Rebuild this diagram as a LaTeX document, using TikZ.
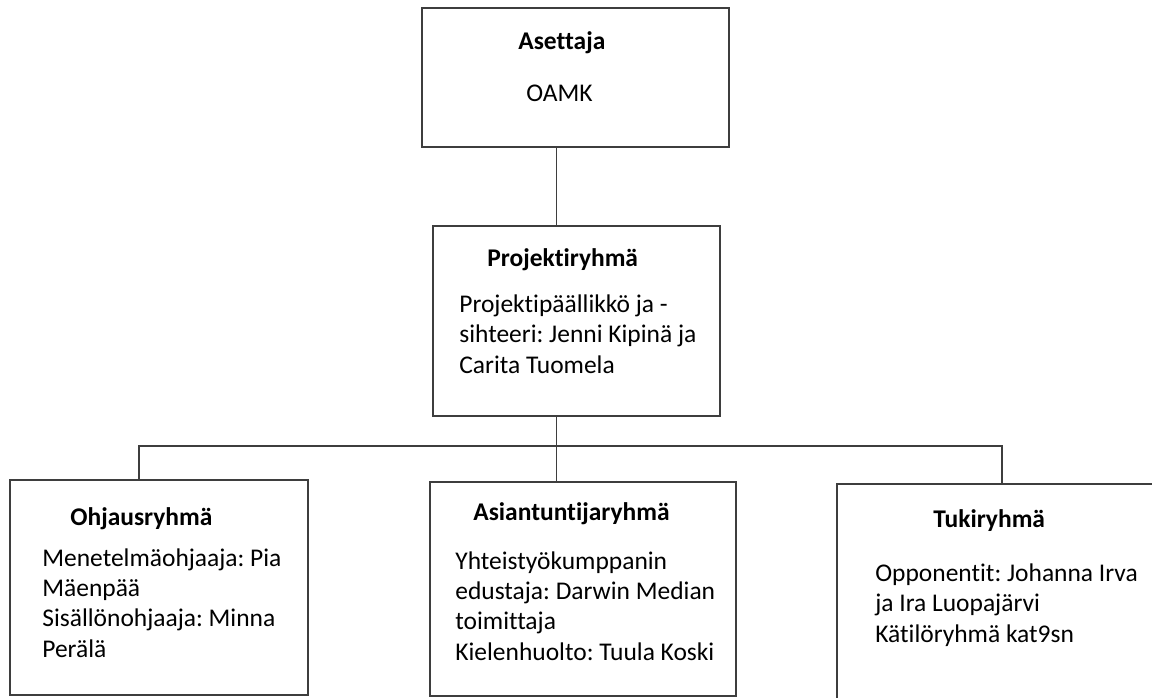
\documentclass[tikz,border=0pt]{standalone}
\usepackage{fontspec}
\setmainfont{Carlito}[Ligatures=NoCommon]
\frenchspacing
\usepackage{tikz}
\usetikzlibrary{fit,calc}
\definecolor{linegray}{RGB}{62,62,62}
\tikzset{
  orgbox/.style={draw=linegray,line width=0.75pt,inner sep=0pt},
  boxtitle/.style={anchor=base west,inner sep=0pt,
    font=\fontsize{14.5}{17}\selectfont\bfseries},
  % multi-line texts: base is the baseline of the last line
  boxtext/.style={anchor=base west,inner sep=0pt,align=left,
    font=\fontsize{14.5}{17.2}\selectfont},
  link/.style={draw=linegray,line width=0.75pt},
}
\begin{document}
\begin{tikzpicture}[x=0.02cm,y=-0.02cm]
  \clip (0,0) rectangle (1152,697);
  % boxes
  \node[orgbox,fit={(422,8) (729,147)}] (aset) {};
  \node[orgbox,fit={(433,226) (720,416)}] (proj) {};
  \node[orgbox,fit={(10,480) (308,695)}] (ohj) {};
  \node[orgbox,fit={(430,482) (736,696)}] (asian) {};
  \node[orgbox,fit={(837,484) (1170,720)}] (tuki) {};
  % texts
  \node[boxtitle] (asetT) at (518,49) {Asettaja};
  \node[boxtext] (asetB) at (526,101) {OAMK};
  \node[boxtitle] (projT) at (487,266) {Projektiryhmä};
  \node[boxtext] (projB) at (459,373) {Projektipäällikkö ja -\\sihteeri: Jenni Kipinä ja\\Carita Tuomela};
  \node[boxtitle] (ohjT) at (70,525) {Ohjausryhmä};
  \node[boxtext] (ohjB) at (42,657) {Menetelmäohjaaja: Pia\\Mäenpää\\Sisällönohjaaja: Minna\\Perälä};
  \node[boxtitle] (asianT) at (473,520) {Asiantuntijaryhmä};
  \node[boxtext] (asianB) at (455,660) {Yhteistyökumppanin\\edustaja: Darwin Median\\toimittaja\\Kielenhuolto: Tuula Koski};
  \node[boxtitle] (tukiT) at (933,527) {Tukiryhmä};
  \node[boxtext] (tukiB) at (875,642) {Opponentit: Johanna Irva\\ja Ira Luopajärvi\\Kätilöryhmä kat9sn};
  % connectors
  \coordinate (trunk) at (556.5,446);
  \coordinate (busL) at (139,446);
  \coordinate (busR) at (1002,446);
  \draw[link] (trunk |- aset.south) -- (trunk |- proj.north);
  \draw[link] (trunk |- proj.south) -- (trunk);
  \draw[link] (busL |- ohj.north) -- (busL) -- (busR) -- (busR |- tuki.north);
  \draw[link] (trunk) -- (trunk |- asian.north);
\end{tikzpicture}
\end{document}
